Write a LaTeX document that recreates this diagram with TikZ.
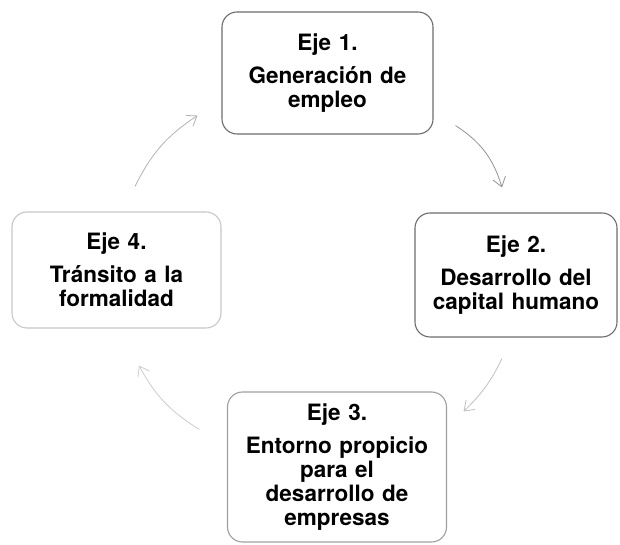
\documentclass[tikz,border=0pt]{standalone}
\usepackage{fontspec}
\setmainfont{TeX Gyre Heros}
\usetikzlibrary{arrows.meta}
\begin{document}
\begin{tikzpicture}[x=1pt,y=1pt,
    eje/.style={draw=gray!85!black,line width=1.1pt,rounded corners=15pt,inner sep=0pt,
        text width=190pt,align=center,font=\bfseries\fontsize{22.5}{24}\selectfont},
    flecha/.style={draw=gray!70,line width=0.8pt,-{Straight Barb[length=9pt,width=13pt]}}]
        \useasboundingbox (0,0) rectangle (620,545);
        \node[eje,minimum width=211pt,minimum height=122pt] (e1) at (327.5,472) {Eje 1.\\[9pt]Generación de\\empleo};
        \node[eje,minimum width=202pt,minimum height=124pt] (e2) at (516,270) {Eje 2.\\[9pt]Desarrollo del\\capital humano};
        \node[eje,draw=gray!75,minimum width=219pt,minimum height=150pt] (e3) at (337,78) {Eje 3.\\[9pt]Entorno propicio\\para el\\desarrollo de\\empresas};
        \node[eje,draw=gray!45,minimum width=209pt,minimum height=116pt] (e4) at (116.5,275) {Eje 4.\\[9pt]Tránsito a la\\formalidad};
        \draw[flecha,draw=gray!85] ([shift={(22,9)}]e1.south east) to[bend left=20] ([shift={(-14,25)}]e2.north);
        \draw[flecha,draw=gray!50] ([shift={(-14,-21)}]e2.south) to[bend left=10] ([shift={(16.5,-20)}]e3.north east);
        \draw[flecha,draw=gray!40] ([shift={(-27.5,-38)}]e3.north west) to[bend left=15] ([shift={(22.5,-37)}]e4.south);
        \draw[flecha,draw=gray!60] ([shift={(18.5,25)}]e4.north) to[bend left=15] ([shift={(-24,19)}]e1.south west);
    \end{tikzpicture}
\end{document}
